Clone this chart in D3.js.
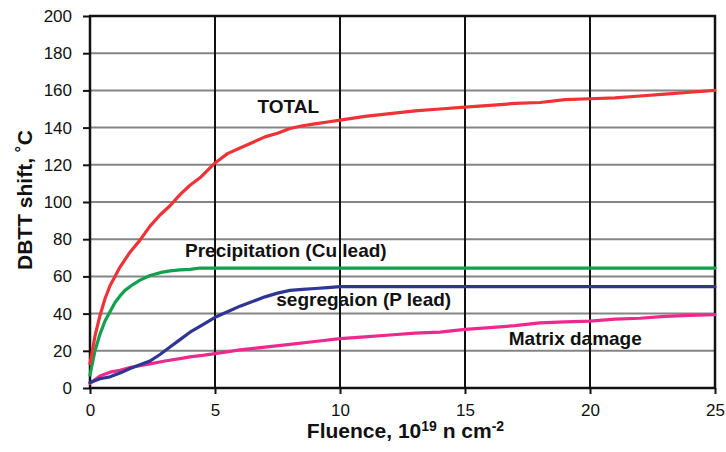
<!DOCTYPE html>
<html>
<head>
<meta charset="utf-8">
<script src="https://cdn.jsdelivr.net/npm/d3@7/dist/d3.min.js"></script>
<style>
  html, body { margin: 0; padding: 0; background: #fff; }
  svg { display: block; font-family: "Liberation Sans", Arial, Helvetica, sans-serif; }
</style>
</head>
<body>
<svg id="chart" width="726" height="452"></svg>
<script>
// Fluence (10^19 n cm^-2) and DBTT shift (°C) for each contribution
const totalX = [0, 0.2, 0.4, 0.6, 0.8, 1.0, 1.2, 1.4, 1.6, 2.0, 2.4, 2.8, 3.2, 3.6, 4.0, 4.4, 5.0, 5.5, 6.0, 6.5, 7, 7.5, 8, 8.5, 9, 9.5, 10, 11, 12, 13, 14, 15, 16, 17, 18, 19, 20, 21, 22, 23, 24, 25];
const totalY = [13, 28, 39, 48, 55, 60, 65, 69, 73, 79.5, 87, 93, 98, 104, 109, 113, 121, 126, 129, 132, 135, 137, 139.5, 141, 142, 143, 144, 146, 147.5, 149, 150, 151, 152, 153, 153.5, 155, 155.5, 156, 157, 158, 159, 160];

const precipX = [0, 0.2, 0.4, 0.6, 0.8, 1.0, 1.2, 1.4, 1.7, 2.0, 2.4, 2.8, 3.2, 3.6, 4.0, 4.4, 25];
const precipY = [7, 20, 29, 36, 41, 46, 49.5, 52.5, 55.5, 58, 60.5, 62, 63, 63.5, 63.8, 64.5, 64.5];

const segX = [0, 0.4, 0.8, 1.2, 1.6, 2.0, 2.4, 2.8, 3.2, 3.6, 4.0, 4.5, 5, 5.5, 6, 6.5, 7, 7.5, 8, 8.5, 9, 9.5, 10, 25];
const segY = [3, 5, 6, 8, 10.5, 12.5, 14.5, 18, 22, 26, 30, 34, 38, 41, 44, 46.5, 49, 51, 52.5, 53, 53.5, 54, 54.5, 54.5];

const matrixX = [0, 0.4, 0.8, 1.2, 1.6, 2.0, 2.4, 3.0, 3.6, 4.0, 4.5, 5, 6, 7, 8, 9, 10, 11, 12, 13, 14, 15, 16, 17, 18, 19, 20, 21, 22, 23, 24, 25];
const matrixY = [2.5, 6.5, 8.5, 9.5, 11, 12, 13, 14.5, 15.8, 16.7, 17.5, 18.5, 20.5, 22, 23.5, 25, 26.5, 27.5, 28.5, 29.5, 30, 31.5, 32.5, 33.5, 35, 35.5, 36, 37, 37.5, 38.5, 39, 39.5];

const xTicks = [0, 5, 10, 15, 20, 25];
const yTicks = [0, 20, 40, 60, 80, 100, 120, 140, 160, 180, 200];

const seriesLabels = ["TOTAL", "Precipitation (Cu lead)", "segregaion (P lead)", "Matrix damage"];

// Layout
const svg = d3.select("#chart");
const plotLeft = 90, plotTop = 16, plotRight = 715, plotBottom = 388;

const x = d3.scaleLinear().domain([0, 25]).range([plotLeft, plotRight]);
const y = d3.scaleLinear().domain([0, 200]).range([plotBottom, plotTop]);

// Horizontal grid (grey)
svg.append("g")
  .selectAll("line")
  .data(yTicks.filter(d => d > 0 && d < 200))
  .join("line")
  .attr("x1", plotLeft).attr("x2", plotRight)
  .attr("y1", d => y(d)).attr("y2", d => y(d))
  .attr("stroke", "#858585").attr("stroke-width", 2);

// Vertical grid (black)
svg.append("g")
  .selectAll("line")
  .data(xTicks.filter(d => d > 0 && d < 25))
  .join("line")
  .attr("y1", plotTop).attr("y2", plotBottom)
  .attr("x1", d => x(d)).attr("x2", d => x(d))
  .attr("stroke", "#111").attr("stroke-width", 2);

// Axes
const yAxis = svg.append("g")
  .attr("transform", `translate(${plotLeft},0)`)
  .call(d3.axisLeft(y).tickValues(yTicks).tickSize(7).tickPadding(11).tickFormat(d3.format("d")));
const xAxis = svg.append("g")
  .attr("transform", `translate(0,${plotBottom})`)
  .call(d3.axisBottom(x).tickValues(xTicks).tickSize(6).tickPadding(10).tickFormat(d3.format("d")));

[yAxis, xAxis].forEach(g => {
  g.select(".domain").remove();
  g.selectAll(".tick line").attr("stroke", "#111").attr("stroke-width", 2);
  g.selectAll(".tick text")
    .attr("fill", "#111")
    .style("font-family", "'Liberation Sans', Arial, Helvetica, sans-serif")
    .style("font-size", "17px");
});

// Plot frame
svg.append("rect")
  .attr("x", plotLeft).attr("y", plotTop)
  .attr("width", plotRight - plotLeft).attr("height", plotBottom - plotTop)
  .attr("fill", "none").attr("stroke", "#111").attr("stroke-width", 2.5);

// Curves
const line = d3.line().x(d => x(d[0])).y(d => y(d[1]));
const series = [
  { xs: matrixX, ys: matrixY, color: "#ec2a8e" },
  { xs: segX, ys: segY, color: "#2f3593" },
  { xs: precipX, ys: precipY, color: "#10a04e" },
  { xs: totalX, ys: totalY, color: "#ee3236" }
];
svg.append("g")
  .selectAll("path")
  .data(series)
  .join("path")
  .attr("d", s => line(d3.zip(s.xs, s.ys)))
  .attr("fill", "none")
  .attr("stroke", s => s.color)
  .attr("stroke-width", 3.2)
  .attr("stroke-linejoin", "round")
  .attr("stroke-linecap", "round");

// Series labels
const labelPos = [
  { fx: 6.7, v: 148 },
  { fx: 3.8, v: 70.5 },
  { fx: 7.45, v: 44 },
  { fx: 16.75, v: 23 }
];
svg.append("g")
  .selectAll("text")
  .data(seriesLabels)
  .join("text")
  .attr("x", (d, i) => x(labelPos[i].fx))
  .attr("y", (d, i) => y(labelPos[i].v))
  .attr("fill", "#111")
  .attr("font-weight", "bold")
  .attr("font-size", 19)
  .text(d => d);

// Axis titles
svg.append("text")
  .attr("transform", `translate(32,${(plotTop + plotBottom) / 2 - 2}) rotate(-90)`)
  .attr("text-anchor", "middle")
  .attr("font-weight", "bold")
  .attr("font-size", 21)
  .attr("fill", "#111")
  .text("DBTT shift, \u02DAC");

const xt = svg.append("text")
  .attr("x", (plotLeft + plotRight) / 2 + 3)
  .attr("y", 438)
  .attr("text-anchor", "middle")
  .attr("font-weight", "bold")
  .attr("font-size", 21)
  .attr("fill", "#111");
xt.append("tspan").text("Fluence, 10");
xt.append("tspan").attr("font-size", 14).attr("dy", -7).text("19");
xt.append("tspan").attr("dy", 7).text(" n cm");
xt.append("tspan").attr("font-size", 14).attr("dy", -7).text("-2");
</script>
</body>
</html>
